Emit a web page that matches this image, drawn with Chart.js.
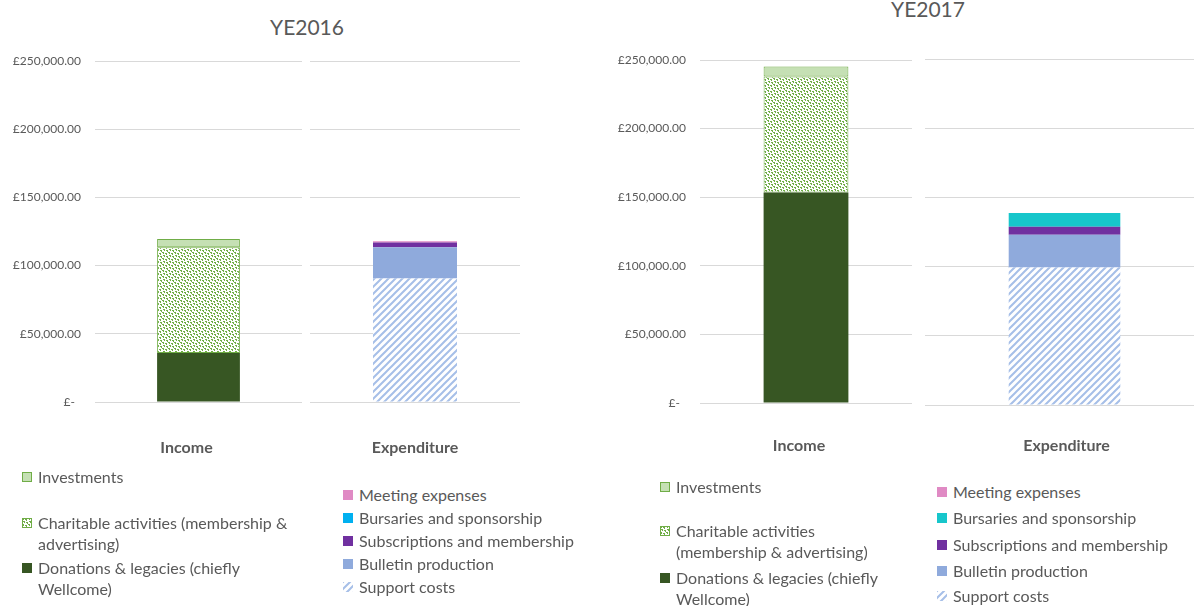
<!DOCTYPE html>
<html>
<head>
<meta charset="utf-8">
<title>Income and expenditure YE2016 / YE2017</title>
<script src="https://cdn.jsdelivr.net/npm/chart.js@4.4.1/dist/chart.umd.min.js"></script>
<style>
html, body { margin: 0; padding: 0; overflow: hidden; background: #fff; }
body { width: 1194px; height: 606px; position: relative; font-family: Lato, 'Noto Sans', sans-serif; color: #595959; }
.box { position: absolute; }
.title { position: absolute; font-size: 21px; line-height: 24px; transform: translateX(-50%); white-space: nowrap; }
.legend { position: absolute; top: 0; font-size: 16px; }
.item { position: absolute; left: 0; width: 100%; display: flex; align-items: flex-start; line-height: 21px; }
.item canvas { flex: none; margin: 6px 6px 0 0; }
</style>
</head>
<body>
<div class="title" style="left:307px;top:15px">YE2016</div>
<div class="title" style="left:928px;top:-3px">YE2017</div>

<div class="box" style="left:0;top:0;width:302px;height:480px"><canvas id="inc2016"></canvas></div>
<div class="box" style="left:310px;top:0;width:210px;height:480px"><canvas id="exp2016"></canvas></div>
<div class="box" style="left:605px;top:0;width:307px;height:480px"><canvas id="inc2017"></canvas></div>
<div class="box" style="left:925px;top:0;width:279px;height:480px"><canvas id="exp2017"></canvas></div>

<div class="legend" id="legInc2016" style="left:22px;width:280px"></div>
<div class="legend" id="legExp2016" style="left:343px;width:260px"></div>
<div class="legend" id="legInc2017" style="left:660px;width:230px"></div>
<div class="legend" id="legExp2017" style="left:937px;width:257px"></div>

<script>
// categories
var incomeLabels = ['Income'];
var expenditureLabels = ['Expenditure'];

// series, listed bottom of the stack first
var incomeNames = ['Donations & legacies (chiefly Wellcome)', 'Charitable activities (membership & advertising)', 'Investments'];
var income2016 = [36000, 77500, 6000];
var income2017 = [153500, 84500, 7300];

var expenditureNames = ['Support costs', 'Bulletin production', 'Subscriptions and membership', 'Bursaries and sponsorship', 'Meeting expenses'];
var expenditure2016 = [90500, 23000, 3500, 0, 800];
var expenditure2017 = [99300, 23700, 5800, 10000, 0];

// y axis ticks
var yTicks = [0, 50000, 100000, 150000, 200000, 250000];

//-------------
function money(v) {
    if (v === 0) {
        return '£-  ';
    }
    return '£' + Number(v).toLocaleString('en-GB', { minimumFractionDigits: 2, maximumFractionDigits: 2 });
}

// small confetti fill, like the spreadsheet's pattern
function confetti(colour) {
    var c = document.createElement('canvas');
    c.width = 6;
    c.height = 6;
    var g = c.getContext('2d');
    g.fillStyle = '#ffffff';
    g.fillRect(0, 0, 6, 6);
    g.fillStyle = colour;
    g.fillRect(0, 0, 2, 1);
    g.fillRect(1, 1, 1, 1);
    g.fillRect(3, 1, 2, 1);
    g.fillRect(4, 2, 1, 1);
    g.fillRect(1, 3, 2, 1);
    g.fillRect(2, 4, 1, 1);
    g.fillRect(4, 4, 2, 1);
    g.fillRect(5, 5, 1, 1);
    return g.createPattern(c, 'repeat');
}

function stripes(colour) {
    var s = 7;
    var c = document.createElement('canvas');
    c.width = s;
    c.height = s;
    var g = c.getContext('2d');
    g.fillStyle = '#ffffff';
    g.fillRect(0, 0, s, s);
    g.strokeStyle = colour;
    g.lineWidth = 2;
    g.beginPath();
    [-s, 0, s].forEach(function (k) {
        g.moveTo(k - 1, s + 1);
        g.lineTo(k + s + 1, -1);
    });
    g.stroke();
    return g.createPattern(c, 'repeat');
}

function incomeSets(values) {
    return [{
        label: incomeNames[0],
        data: [values[0]],
        backgroundColor: '#375623',
        borderWidth: 0
    }, {
        label: incomeNames[1],
        data: [values[1]],
        backgroundColor: confetti('#70ad47'),
        borderColor: '#70ad47',
        borderWidth: 1,
        borderSkipped: false
    }, {
        label: incomeNames[2],
        data: [values[2]],
        backgroundColor: '#c5e0b4',
        borderColor: '#70ad47',
        borderWidth: 1,
        borderSkipped: false
    }];
}

function expenditureSets(values, bursaryColour) {
    return [{
        label: expenditureNames[0],
        data: [values[0]],
        backgroundColor: stripes('#a6bfe8')
    }, {
        label: expenditureNames[1],
        data: [values[1]],
        backgroundColor: '#8faadc'
    }, {
        label: expenditureNames[2],
        data: [values[2]],
        backgroundColor: '#7030a0'
    }, {
        label: expenditureNames[3],
        data: [values[3]],
        backgroundColor: bursaryColour
    }, {
        label: expenditureNames[4],
        data: [values[4]],
        backgroundColor: '#e08ac4'
    }];
}

function options(showTicks, top, xHeight, labelPad, labelShift) {
    return {
        responsive: true,
        maintainAspectRatio: false,
        animation: false,
        layout: { padding: { top: top, left: 0, right: 0, bottom: 0 } },
        datasets: { bar: { barPercentage: 0.4, categoryPercentage: 1 } },
        plugins: { legend: { display: false }, tooltip: { enabled: false } },
        scales: {
            x: {
                stacked: true,
                grid: { display: false, drawTicks: false },
                border: { display: false },
                ticks: {
                    color: '#595959',
                    font: { family: 'Lato', size: 16, weight: 'bold' },
                    padding: labelPad,
                    labelOffset: labelShift
                },
                afterFit: function (s) { s.height = xHeight; }
            },
            y: {
                stacked: true,
                min: yTicks[0],
                max: yTicks[yTicks.length - 1],
                grid: { color: '#d9d9d9', drawTicks: false },
                border: { display: false },
                ticks: {
                    display: showTicks,
                    stepSize: yTicks[1] - yTicks[0],
                    padding: 14,
                    color: '#595959',
                    font: { family: 'Lato', size: 12 },
                    callback: money
                },
                afterFit: function (s) { s.width = showTicks ? 95 : 0; }
            }
        }
    };
}

function legend(chart, id, centres) {
    var box = document.getElementById(id);
    chart.data.datasets.slice().reverse().forEach(function (ds, i) {
        var item = document.createElement('div');
        item.className = 'item';
        item.style.top = (centres[i] - 10.5) + 'px';
        var sw = document.createElement('canvas');
        sw.width = 10;
        sw.height = 10;
        var g = sw.getContext('2d');
        g.fillStyle = ds.backgroundColor;
        g.fillRect(0, 0, 10, 10);
        if (ds.borderWidth) {
            g.strokeStyle = ds.borderColor;
            g.lineWidth = 1;
            g.strokeRect(0.5, 0.5, 9, 9);
        }
        var txt = document.createElement('span');
        txt.textContent = ds.label;
        item.appendChild(sw);
        item.appendChild(txt);
        box.appendChild(item);
    });
}

var inc2016 = new Chart(document.getElementById('inc2016'), {
    type: 'bar',
    data: { labels: incomeLabels, datasets: incomeSets(income2016) },
    options: options(true, 61, 78, 36, -12)
});
var exp2016 = new Chart(document.getElementById('exp2016'), {
    type: 'bar',
    data: { labels: expenditureLabels, datasets: expenditureSets(expenditure2016, '#00b0f0') },
    options: options(false, 61, 78, 36, 0)
});
var inc2017 = new Chart(document.getElementById('inc2017'), {
    type: 'bar',
    data: { labels: incomeLabels, datasets: incomeSets(income2017) },
    options: options(true, 60, 77, 33, -7)
});
var exp2017 = new Chart(document.getElementById('exp2017'), {
    type: 'bar',
    data: { labels: expenditureLabels, datasets: expenditureSets(expenditure2017, '#17c6cb') },
    options: options(false, 59, 75, 31, 2)
});

legend(inc2016, 'legInc2016', [476, 522, 567]);
legend(exp2016, 'legExp2016', [494, 517, 540, 563, 586]);
legend(inc2017, 'legInc2017', [486, 530, 577]);
legend(exp2017, 'legExp2017', [491, 517, 544, 570, 595]);
</script>
</body>
</html>
